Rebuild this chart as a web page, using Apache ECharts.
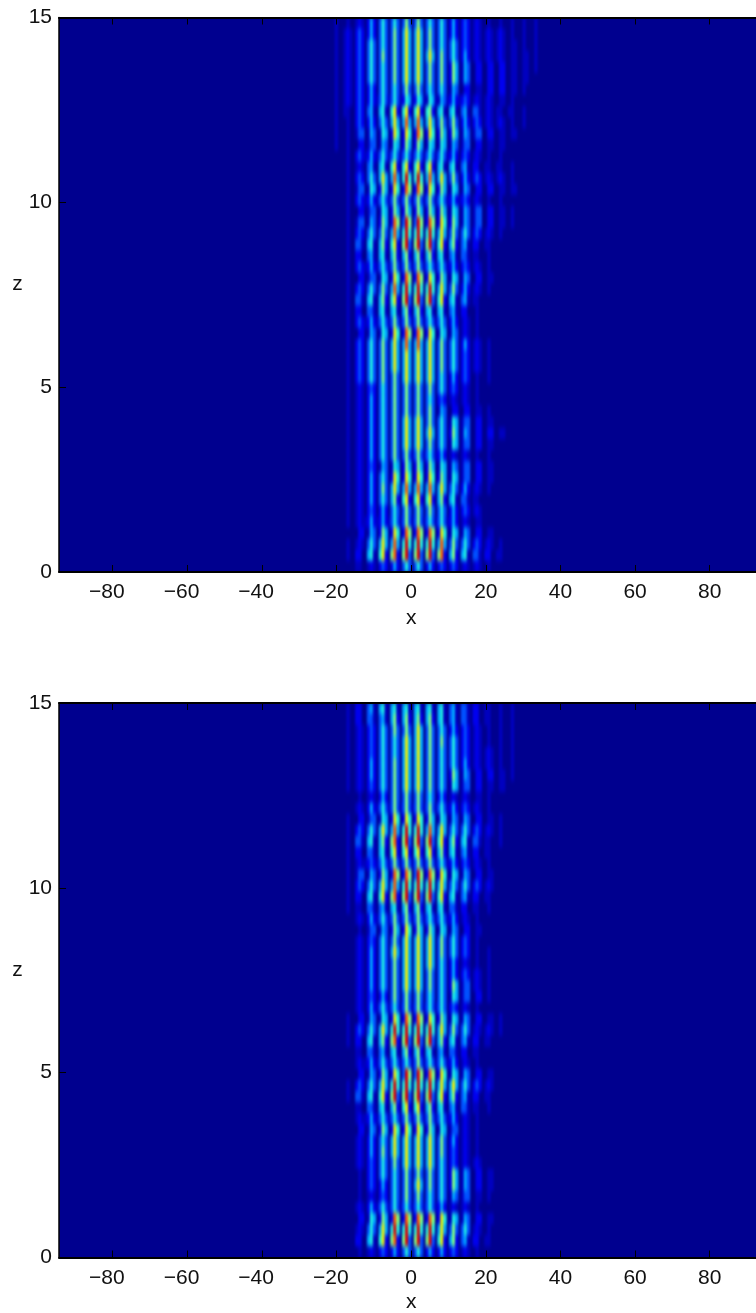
<!DOCTYPE html>
<html><head><meta charset="utf-8">
<script src="https://cdn.jsdelivr.net/npm/echarts@6/dist/echarts.min.js"></script>
<style>html,body{margin:0;background:#fff}#c{width:756px;height:1313px}
canvas[data-zr-dom-id="zr_1"]{filter:url(#soft);clip-path:path('M0 17.5H756V572H0Z M0 703H756V1257.5H0Z')}</style></head>
<body><svg width="0" height="0" style="position:absolute"><filter id="soft" x="0" y="0" width="100%" height="100%" color-interpolation-filters="sRGB"><feGaussianBlur stdDeviation="0.8 2.8"/></filter></svg><div id="c"></div>
<script>
const xTicks=[-80,-60,-40,-20,0,20,40,60,80];
const zTicks=[0,5,10,15];
const levelColors=['#00008f','#0000c0','#0000f0','#0050ff','#00a8ff','#20f0e0','#80ff80','#f0f000','#ff6000','#e00000'];
// each row is one z band (top row z=14.85, step 0.3); each 4-digit group is one fringe period
const upperRows=[
"0010 0010 0121 0242 0353 0353 0363 0363 0353 0353 0242 0232 0121 0010 0010 0010 0010 0010",
"0010 0121 0232 0242 0353 0363 0474 0474 0363 0353 0242 0232 0121 0121 0121 0010 0010 0010",
"0010 0121 0232 0353 0353 0363 0474 0474 0363 0353 0353 0232 0121 0121 0121 0011 0010 0010",
"0010 0121 0232 0353 0363 0363 0474 0474 0474 0363 0353 0242 0121 0121 0121 0011 0011 0010",
"0010 0121 0232 0353 0353 0363 0474 0474 0363 0363 0264 0143 0022 0022 0022 0011 0011 0010",
"0010 0121 0232 0353 0353 0363 0474 0474 0363 0363 0264 0143 0022 0022 0022 0011 0011",
"0010 0121 0232 0242 0353 0353 0363 0363 0353 0353 0143 0022 0011 0022 0022 0011 0010",
"0010 0121 0232 0242 1353 1353 1254 1254 1154 1143 1242 1232 0121 0121 0011 0010",
"0010 0110 0232 0341 0451 0572 0572 0572 0562 0451 0451 0341 0331 0121 0110 0110 0010",
"0010 0010 0232 0242 0353 0474 0484 0484 0474 0363 0363 0242 0232 0121 0121 0010 0010",
"0010 0010 0133 0143 0154 0275 0275 0286 0275 0264 0264 0143 0133 0022 0011 0011",
"0010 0010 0022 0133 0143 0154 0264 0264 0154 0154 0143 0133 0022 0011 0011",
"0000 0010 0232 1242 1353 1353 1353 1353 1353 1353 1242 0232 0121 0010 0010",
"0000 0010 0121 0341 0451 0572 0572 0572 0572 0451 0451 0341 0220 0110 0110 0010",
"0000 0010 0232 0353 0474 0484 0595 0595 0484 0474 0363 0242 0232 0121 0121 0010",
"0000 0010 0133 0154 0264 0275 0286 0286 0275 0264 0154 0143 0022 0022 0011 0011",
"0000 0010 0232 1242 1353 1363 1363 1363 1363 1353 1242 1232 0121 0010 0010",
"0000 0010 0022 0133 0154 0264 0264 0264 0264 0264 0154 0143 0133 0022 0011 0010",
"0000 0010 0133 0143 0264 0286 0396 0396 0286 0275 0264 0143 0133 0022 0011 0010",
"0000 0010 0232 0353 0363 0484 0595 0595 0595 0474 0363 0353 0232 0121 0010",
"0000 0010 0331 0451 0462 0572 0693 0693 0693 0572 0462 0341 0220 0110",
"0000 0010 0220 0341 0451 0462 0462 0462 0462 0451 0341 0331 0110 0010",
"0000 0010 0232 1242 1353 1363 1363 1363 1353 1353 1242 0232 0121 0010",
"0000 0010 0022 0133 0154 0275 0286 0286 0275 0264 0154 0143 0022 0011",
"0000 0010 0232 0353 0363 0484 0595 0595 0595 0474 0363 0242 0121 0010",
"0000 0010 0331 0451 0462 0572 0693 0693 0693 0572 0451 0341 0110",
"0000 0010 0220 0331 0451 0451 0462 0462 0451 0451 0341 0220 0010",
"0000 0010 0232 1242 1353 1363 1363 1363 1353 1353 0242 0121 0010",
"0000 0010 0022 0143 0154 0275 0286 0286 0275 0154 0143 0121 0010",
"0000 0010 0232 0353 0363 0474 0484 0484 0474 0363 0353 0242 0121 0010",
"0000 0010 0232 0353 0363 0474 0474 0474 0474 0363 0353 0232 0121 0010",
"0000 0010 0232 0353 0363 0474 0474 0474 0474 0363 0353 0232 0121 0010",
"0000 0010 0232 0353 0363 0363 0474 0474 0474 0353 0242 0232 0010 0010",
"0000 0010 0121 0232 0353 0363 0363 0363 0363 0353 0232 0121 0010",
"0000 0010 0121 0242 0353 0363 0363 0363 0353 0232 0121 0121 0010",
"0000 0010 0121 0242 0353 0363 0363 0363 0363 0143 0022 0022 0011 0010",
"0000 0010 0121 0242 0353 0363 0474 0474 0363 0353 0154 0133 0022 0011",
"0000 0010 0121 0242 0353 0363 0474 0474 0474 0353 0264 0143 0022 0022 0011",
"0000 0010 0121 0242 0353 0363 0474 0474 0363 0353 0154 0133 0022 0011",
"0000 0010 0121 0242 0353 0363 0363 1363 1353 1242 0121 0121 0010 0010",
"0000 0010 0121 0232 0143 0154 0264 0264 0264 0154 0143 0133 0022 0011",
"0000 0010 0121 0242 0353 0275 0275 0275 0275 0264 0154 0133 0022 0011",
"0000 0010 0121 0242 0363 0474 0484 0484 0484 0474 0353 0242 0121 0010",
"0000 0010 0121 0242 0353 0462 0572 0572 0572 0462 0451 0331 0110",
"0000 0010 0121 0232 0242 0353 0363 0363 0363 0353 0242 0232 0121",
"0000 0010 0121 1242 1242 1353 1363 1363 1353 1353 1242 0121 0011",
"0000 0000 0022 0143 0264 0275 0286 0286 0286 0275 0154 0143 0022 0011",
"0000 0010 0121 0353 0474 0484 0595 0595 0595 0484 0363 0353 0232 0121 0010",
"0000 0010 0220 0451 0572 0682 0693 0693 0693 0682 0462 0451 0331 0220 0110",
"0000 0000 0110 0121 0232 0242 0353 0353 0242 0232 0232 0121 0121 0010"
];
const lowerRows=[
"0000 0010 0220 0341 0451 0451 0451 0451 0451 0451 0341 0331 0220 0110 0010 0010",
"0000 0010 0220 0331 0341 0462 0462 0462 0462 0451 0341 0331 0220 0110 0010 0010",
"0000 0010 0121 0232 0353 0363 0363 0474 0363 0353 0242 0232 0121 0010 0010 0010",
"0000 0010 0121 0232 0353 0353 0474 0474 0363 0363 0353 0232 0121 0010 0010 0010",
"0000 0010 0121 0232 0353 0353 0474 0474 0363 0353 0353 0232 0121 0121 0010 0010",
"0000 0010 0121 0242 0353 0363 0474 0474 0363 0353 0353 0242 0121 0121 0010 0010",
"0000 0010 0121 0242 0353 0363 0474 0474 0363 0353 0264 0143 0022 0022 0011 0010",
"0000 0010 0121 0232 0353 0363 0474 0474 0363 0353 0154 0133 0022 0011 0011",
"0000 0000 0010 0121 0242 0363 0363 0363 0353 0242 0121 0121 0011 0010",
"0000 0000 0121 0242 1353 1363 1363 1363 1363 1353 1242 0232 0121 0010",
"0000 0010 0022 0133 0154 0275 0275 0275 0264 0154 0143 0143 0022 0011 0010",
"0000 0010 0232 0353 0474 0484 0595 0595 0484 0474 0353 0353 0232 0121 0010",
"0000 0010 0331 0451 0462 0682 0693 0693 0693 0572 0462 0451 0331 0110 0010",
"0000 0010 0220 0331 0451 0572 0572 0572 0572 0462 0451 0341 0220 0110",
"0000 0010 0121 1232 1353 1363 1363 1363 1363 1353 1242 0232 0121 0010",
"0000 0010 0133 0143 0264 0286 0286 0396 0286 0275 0154 0143 0022 0011",
"0000 0010 0232 0353 0474 0484 0595 0595 0595 0474 0353 0353 0232 0121",
"0000 0010 0220 0451 0572 0682 0693 0693 0693 0572 0451 0341 0220 0110",
"0000 0010 0110 0331 0341 0451 0462 0462 0451 0451 0331 0220 0110 0010",
"0000 0000 0121 0242 1353 1363 1363 1363 1353 1353 1242 0121 0010",
"0000 0000 0010 0133 0143 0264 0275 0264 0264 0154 0143 0022 0011",
"0000 0000 0121 0232 0353 0363 0474 0474 0474 0363 0353 0232 0010",
"0000 0000 0121 0242 0353 0474 0474 0474 0474 0363 0353 0232 0010 0010",
"0000 0000 0121 0242 0353 0363 0474 0474 0474 0353 0242 0121 0010 0010",
"0000 0000 0121 0242 0353 0363 0474 0474 0363 0353 0242 0232 0121 0010",
"0000 0000 0121 0242 0353 0363 0474 0474 0363 0353 0264 0133 0121 0010",
"0000 0000 0121 0232 0242 0363 0363 0363 0353 0353 0154 0133 0022 0010",
"0000 0000 0121 0242 1353 1353 1363 1363 1353 1353 0232 0121 0010",
"0000 0010 0022 0143 0154 0275 0286 0286 0275 0264 0154 0143 0022 0011 0010",
"0000 0010 0232 0353 0474 0595 0595 0595 0595 0474 0363 0353 0121 0121 0010",
"0000 0010 0220 0451 0462 0682 0693 0693 0693 0462 0451 0341 0220 0110",
"0000 0000 0110 0331 0341 0451 0462 0462 0451 0341 0331 0220 0110",
"0000 0000 0121 1242 1353 1353 1353 1363 1353 1353 1242 0121 0010",
"0000 0000 0022 0143 0264 0275 0396 0396 0286 0275 0154 0143 0022 0011",
"0000 0010 0232 0353 0474 0595 0595 0595 0595 0474 0474 0353 0232 0121",
"0000 0010 0331 0451 0572 0693 0693 0693 0693 0572 0462 0341 0220 0110",
"0000 0000 0110 0331 0451 0462 0572 0572 0462 0451 0341 0331 0110 0010",
"0000 0000 0121 1242 1353 1353 1363 1363 1363 1353 1242 0121 0010",
"0000 0000 0022 0143 0264 0275 0275 0275 0264 0154 0133 0121 0010",
"0000 0000 0121 0242 0353 0474 0474 0474 0474 0363 0242 0121 0010",
"0000 0000 0121 0242 0363 0474 0474 0474 0474 0363 0232 0121 0010",
"0000 0000 0121 0232 0353 0363 0474 0474 0474 0353 0232 0121 0121",
"0000 0000 0010 0232 0353 0353 0363 0363 0363 0353 0264 0143 0022 0011",
"0000 0000 0010 0232 0242 0353 0363 0474 0363 0353 0264 0143 0022 0011",
"0000 0000 0010 0121 0232 0353 0363 0363 0353 0353 0143 0133 0011 0010",
"0000 0000 0121 0242 1353 1353 1353 1353 1353 1242 0121 0121 0010",
"0000 0000 0022 0154 0264 0286 0286 0286 0286 0275 0154 0143 0022 0011",
"0000 0000 0121 0353 0474 0595 0595 0595 0595 0474 0363 0353 0121 0010",
"0000 0000 0220 0451 0572 0682 0693 0693 0693 0572 0462 0341 0220 0110",
"0000 0000 0010 0121 0232 0242 0353 0353 0242 0242 0232 0121 0010"
];
const xExtent=[-94.4,94.4];
const zExtent=[0,15];
const columnCount=240, firstColumn=92;

const xCats=Array.from({length:columnCount},(_,i)=>String(i));
const zCats=Array.from({length:upperRows.length},(_,i)=>String(i));
function cells(rows){
  const out=[];
  rows.forEach((row,r)=>{
    row.replace(/ /g,'').split('').forEach((d,c)=>{
      if(d!=='0') out.push([firstColumn+c,rows.length-1-r,+d]);
    });
  });
  return out;
}
const font='"Liberation Sans",Arial,sans-serif', fs=21;
const tickLabel=v=>v<0?'\u2212'+(-v)+'\u00a0\u00a0':String(v);
const panels=[{top:17.5,rows:upperRows},{top:703,rows:lowerRows}];
const H=554.5,W=704.4;
const grid=[],xAxis=[],yAxis=[],series=[];
panels.forEach((p,i)=>{
  grid.push({left:59,top:p.top,width:W,height:H,show:true,backgroundColor:levelColors[0],borderWidth:0,outerBoundsMode:'none'});
  const xBase=xAxis.length,yBase=yAxis.length;
  xAxis.push({type:'category',gridIndex:i,data:xCats,show:false});
  xAxis.push({type:'value',gridIndex:i,position:'bottom',min:xExtent[0],max:xExtent[1],zlevel:2,z:10,
    splitLine:{show:false},
    axisLine:{show:true,onZero:false,lineStyle:{color:'#000',width:2}},
    axisTick:{show:true,inside:true,length:7,customValues:xTicks,lineStyle:{color:'#000',width:1}},
    axisLabel:{show:true,customValues:xTicks,margin:10,color:'#111',fontFamily:font,fontSize:fs,formatter:tickLabel},
    name:'x',nameLocation:'middle',nameGap:i?34:36,nameTextStyle:{color:'#111',fontFamily:font,fontSize:fs}});
  xAxis.push({type:'value',gridIndex:i,position:'top',min:xExtent[0],max:xExtent[1],zlevel:2,z:10,
    splitLine:{show:false},
    axisLine:{show:true,onZero:false,lineStyle:{color:'#000',width:2}},
    axisTick:{show:true,inside:true,length:7,customValues:xTicks,lineStyle:{color:'#000',width:1}},
    axisLabel:{show:false}});
  yAxis.push({type:'category',gridIndex:i,data:zCats,show:false});
  yAxis.push({type:'value',gridIndex:i,position:'left',min:zExtent[0],max:zExtent[1],zlevel:2,z:10,
    splitLine:{show:false},
    axisLine:{show:true,onZero:false,lineStyle:{color:'#000',width:1.5}},
    axisTick:{show:true,inside:true,length:7,customValues:zTicks,lineStyle:{color:'#000',width:1}},
    axisLabel:{show:true,customValues:zTicks,margin:7,color:'#111',fontFamily:font,fontSize:fs},
    name:'z',nameLocation:'middle',nameRotate:0,nameGap:35,
    nameTextStyle:{color:'#111',fontFamily:font,fontSize:fs,verticalAlign:'bottom'}});
  series.push({type:'heatmap',zlevel:1,xAxisIndex:xBase,yAxisIndex:yBase,data:cells(p.rows),progressive:0,animation:false,
    itemStyle:{borderWidth:0},emphasis:{disabled:true}});
});
const chart=echarts.init(document.getElementById('c'),null,{renderer:'canvas'});
chart.setOption({animation:false,backgroundColor:'#fff',grid,xAxis,yAxis,series,
  visualMap:{show:false,type:'continuous',min:0,max:9,seriesIndex:[0,1],inRange:{color:levelColors}}});
</script></body></html>
